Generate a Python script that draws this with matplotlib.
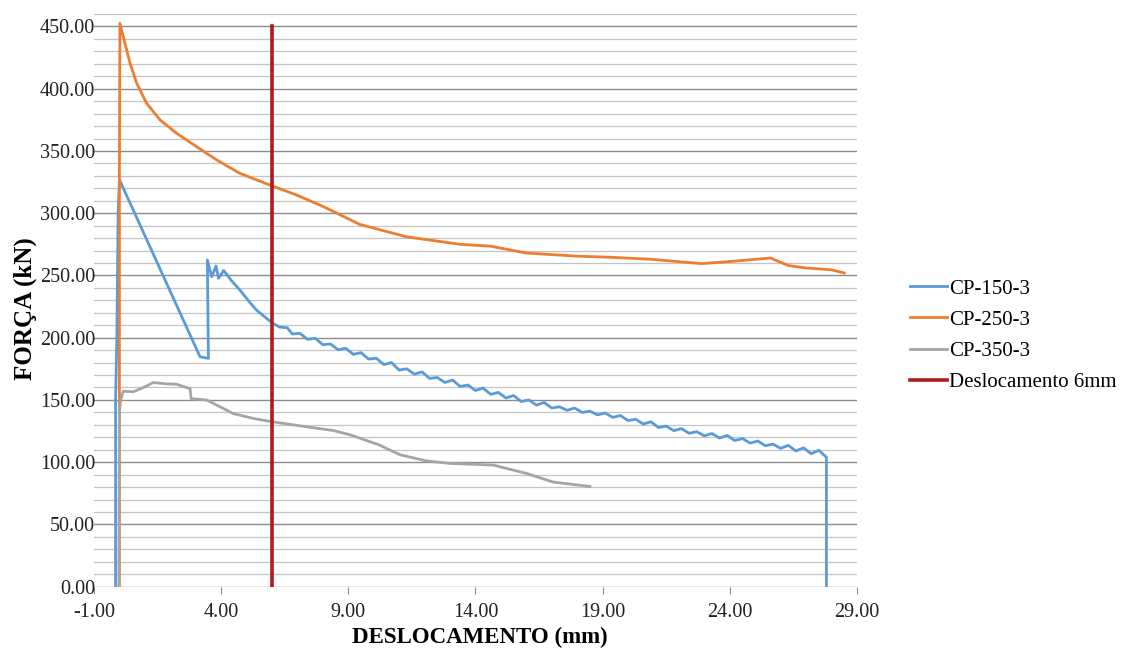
import matplotlib.pyplot as plt
from matplotlib.ticker import MultipleLocator, FormatStrFormatter

# CP-150-3 (azul)
cp150_x = [-0.15, -0.15, -0.1, -0.05, 0.0, 3.17, 3.5, 3.46, 3.63, 3.8, 3.9, 4.1, 4.4, 4.75, 5.1, 5.4, 5.7,
           6.0, 6.3, 6.6, 6.8, 7.1, 7.4, 7.7, 8.0, 8.3, 8.6, 8.9, 9.2, 9.5, 9.8, 10.1, 10.4, 10.7,
           11.0, 11.3, 11.6, 11.9, 12.2, 12.5, 12.8, 13.1, 13.4, 13.7, 14.0, 14.3, 14.6, 14.9,
           15.2, 15.5, 15.8, 16.1, 16.4, 16.7, 17.0, 17.3, 17.6, 17.9, 18.2, 18.5, 18.8, 19.1,
           19.4, 19.7, 20.0, 20.3, 20.6, 20.9, 21.2, 21.5, 21.8, 22.1, 22.4, 22.7, 23.0, 23.3,
           23.6, 23.9, 24.2, 24.5, 24.8, 25.1, 25.4, 25.7, 26.0, 26.3, 26.6, 26.9, 27.2, 27.5,
           27.8, 27.8]
cp150_y = [0, 150, 200, 300, 327, 184.7, 183.4, 262.4, 249, 257.6, 247.7, 254, 246, 238, 229, 222, 217,
           212, 208.5, 208, 203, 203.5, 198.7, 199.5, 194.4, 195, 190.3, 191.5, 186.6, 188, 182.8,
           183.5, 178.4, 180, 174, 175, 170.7, 172.5, 167.3, 168, 164, 166, 160.8, 162, 157.6,
           159.5, 154.5, 156, 151.6, 153.5, 148.7, 150, 145.8, 148, 143.5, 144.5, 141.7, 143.5,
           139.9, 141, 138, 139.5, 136, 137.5, 133.4, 134.5, 130.6, 132.5, 127.8, 129, 125.3,
           127, 123.2, 124.5, 121.2, 123, 119.4, 121.5, 117.4, 119, 115.3, 117, 113.2, 114.5,
           111.1, 113.5, 109, 111.5, 106.8, 109.5, 104, 0]

# CP-250-3 (laranja)
cp250_x = [0.0, 0.0, 0.02, 0.22, 0.42, 0.68, 1.07, 1.6, 2.25, 3.04, 3.83, 4.74, 5.92, 6.97, 8.05,
           9.45, 11.3, 13.4, 14.6, 16.0, 18.0, 19.3, 20.9, 22.9, 24.2, 25.6, 26.3, 27.0, 28.0, 28.5]
cp250_y = [0, 330, 452.5, 436.5, 420.4, 404.4, 388.3, 374.9, 364.2, 353.4, 342.7, 332, 322.6,
           314.6, 305, 291, 281, 275, 273.5, 268, 265.5, 264.6, 263, 259.5, 261.5, 264, 258,
           256, 254.5, 252]

# CP-350-3 (cinza)
cp350_x = [-0.02, 0.0, 0.05, 0.15, 0.55, 0.95, 1.33, 1.8, 2.25, 2.78, 2.82, 3.43, 4.48, 5.3, 6.0,
           7.5, 8.4, 9.07, 10.2, 11.03, 12.08, 13.0, 14.7, 16.0, 17.06, 18.5]
cp350_y = [0, 140, 150, 157, 156.6, 160, 164, 163, 162.6, 159, 151, 150, 139, 135, 132.5,
           128, 125.5, 122, 114, 106, 101, 99, 97.7, 91, 84, 80.5]

# Deslocamento 6mm
desl_x = [6, 6]
desl_y = [0, 450]

x_ticks = [-1, 4, 9, 14, 19, 24, 29]

plt.rcParams['font.family'] = ['Liberation Serif', 'DejaVu Serif']

fig = plt.figure(figsize=(11.32, 6.52), dpi=100)
ax = fig.add_axes([0.083, 0.1002, 0.674, 0.8783])

ax.plot(cp150_x, cp150_y, color='#5b9bd5', lw=2.0, label='CP-150-3', zorder=3)
ax.plot(cp250_x, cp250_y, color='#ed7d31', lw=2.0, label='CP-250-3', zorder=3)
ax.plot(cp350_x, cp350_y, color='#a5a5a5', lw=2.0, label='CP-350-3', zorder=3)
ax.plot(desl_x, desl_y, color='#b01a1e', lw=2.6, label='Deslocamento 6mm', zorder=4)

ax.set_xlim(-1, 29)
ax.set_xticks(x_ticks)
ax.xaxis.set_major_formatter(FormatStrFormatter('%.2f'))
ax.yaxis.set_major_locator(MultipleLocator(50))
ax.yaxis.set_minor_locator(MultipleLocator(10))
ax.yaxis.set_major_formatter(FormatStrFormatter('%.2f'))
ax.set_ylim(0, 460)

ax.grid(axis='y', which='major', color='#8c8c8c', lw=1.0, zorder=0)
ax.grid(axis='y', which='minor', color='#c4c4c4', lw=0.9, zorder=0)
ax.set_axisbelow(True)
for s in ax.spines.values():
    s.set_visible(False)
ax.tick_params(axis='y', which='both', length=0, labelsize=14.5, colors='#222222', pad=-1)
ax.tick_params(axis='x', length=5, color='#8c8c8c', labelsize=14.5, labelcolor='#222222', pad=7)

ax.set_xlabel('DESLOCAMENTO (mm)', fontsize=16.5, fontweight='bold')
ax.set_ylabel('FORÇA (kN)', fontsize=18, fontweight='bold')
ax.xaxis.set_label_coords(0.506, -0.070)
ax.yaxis.set_label_coords(-0.090, 0.485)
ax.yaxis.label.set_verticalalignment('center')

fig.legend(loc='center left', bbox_to_anchor=(0.787, 0.4854), frameon=False, fontsize=15,
           handlelength=1.8, handletextpad=0.1, labelspacing=0.55)

fig.savefig('out.png', dpi=100)
